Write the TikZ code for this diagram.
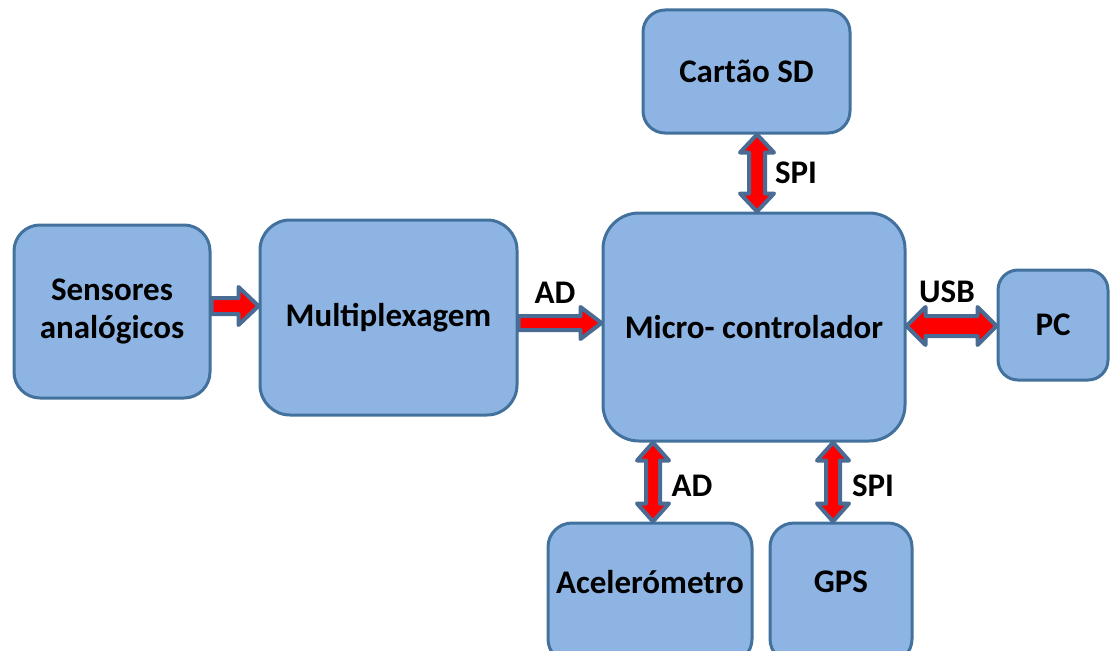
\documentclass[tikz,border=0pt]{standalone}
\usepackage{fontspec}
\setmainfont{Carlito}
\usetikzlibrary{calc}
\definecolor{boxfill}{HTML}{8EB4E3}
\definecolor{boxline}{HTML}{41719C}
\definecolor{arrline}{HTML}{4A6B93}
\definecolor{arrred}{HTML}{FF0000}
\newcommand\hsarrow[5]{% start, end, shaft half, head half, head length
  \draw[barrow] let \p1=(#1), \p2=(#2) in
    (\x1,\y1+#3) -- (\x2-#5,\y1+#3) -- (\x2-#5,\y1+#4) -- (\x2,\y1)
    -- (\x2-#5,\y1-#4) -- (\x2-#5,\y1-#3) -- (\x1,\y1-#3) -- cycle;}
\newcommand\hdarrow[5]{%
  \draw[barrow] let \p1=(#1), \p2=(#2) in
    (\x1,\y1) -- (\x1+#5,\y1+#4) -- (\x1+#5,\y1+#3) -- (\x2-#5,\y1+#3)
    -- (\x2-#5,\y1+#4) -- (\x2,\y1) -- (\x2-#5,\y1-#4) -- (\x2-#5,\y1-#3)
    -- (\x1+#5,\y1-#3) -- (\x1+#5,\y1-#4) -- cycle;}
\newcommand\vdarrow[5]{% top, bottom
  \draw[barrow] let \p1=(#1), \p2=(#2) in
    (\x1,\y1) -- (\x1+#4,\y1-#5) -- (\x1+#3,\y1-#5) -- (\x1+#3,\y2+#5)
    -- (\x1+#4,\y2+#5) -- (\x1,\y2) -- (\x1-#4,\y2+#5) -- (\x1-#3,\y2+#5)
    -- (\x1-#3,\y1-#5) -- (\x1-#4,\y1-#5) -- cycle;}
\begin{document}
\begin{tikzpicture}[x=1pt,y=-1pt,
  blk/.style={draw=boxline, fill=boxfill, line width=3pt, rounded corners=26pt,
    align=center, inner sep=0pt, font=\fontsize{33}{38}\selectfont\bfseries},
  barrow/.style={draw=arrline, fill=arrred, line width=4pt, line join=round},
  lbl/.style={font=\fontsize{33}{38}\selectfont\bfseries, inner sep=0pt}]
\useasboundingbox (0,0) rectangle (1110,650);
\clip (0,0) rectangle (1110,650);
\node[blk, minimum width=196pt, minimum height=173pt] (sens) at (112,311.5) {Sensores\\analógicos};
\node[blk, minimum width=257pt, minimum height=195pt, rounded corners=30pt] (mux) at (388.5,317.5) {Multiplexagem};
\node[blk, minimum width=302pt, minimum height=228pt, rounded corners=36pt] (mc) at (754,327) {Micro- controlador};
\node[blk, minimum width=207pt, minimum height=123pt, rounded corners=22pt] (sd) at (746.5,71.5) {Cartão SD};
\node[blk, minimum width=110pt, minimum height=110pt, rounded corners=20pt] (pc) at (1053,325) {PC};
\node[blk, minimum width=204pt, minimum height=140pt, rounded corners=24pt, text depth=23pt] (acc) at (650,593) {Acelerómetro};
\node[blk, minimum width=142pt, minimum height=140pt, rounded corners=24pt, text depth=23pt] (gps) at (841,593) {GPS};
% connector guide coordinates
\coordinate (ya) at (0,306);
\coordinate (yb) at (0,323);
\coordinate (yc) at (0,326);
\coordinate (xa) at (757,0);
\coordinate (xb) at (653,0);
\coordinate (xc) at (833,0);
\hsarrow{sens.east |- ya}{mux.west |- ya}{8}{19}{20}
\hsarrow{mux.east |- yb}{mc.west |- yb}{7}{16}{21}
\vdarrow{sd.south -| xa}{mc.north -| xa}{8}{17}{18}
\hdarrow{mc.east |- yc}{pc.west |- yc}{10}{19}{19}
\vdarrow{mc.south -| xb}{acc.north -| xb}{7}{16}{18}
\vdarrow{mc.south -| xc}{gps.north -| xc}{7}{16}{18}
\node[lbl] (lad) at (555,293) {AD};
\node[lbl] (lspi) at (796,173) {SPI};
\node[lbl] (lusb) at (947,292) {USB};
\node[lbl] (lad2) at (692,486) {AD};
\node[lbl] (lspi2) at (873,486) {SPI};
\end{tikzpicture}
\end{document}
